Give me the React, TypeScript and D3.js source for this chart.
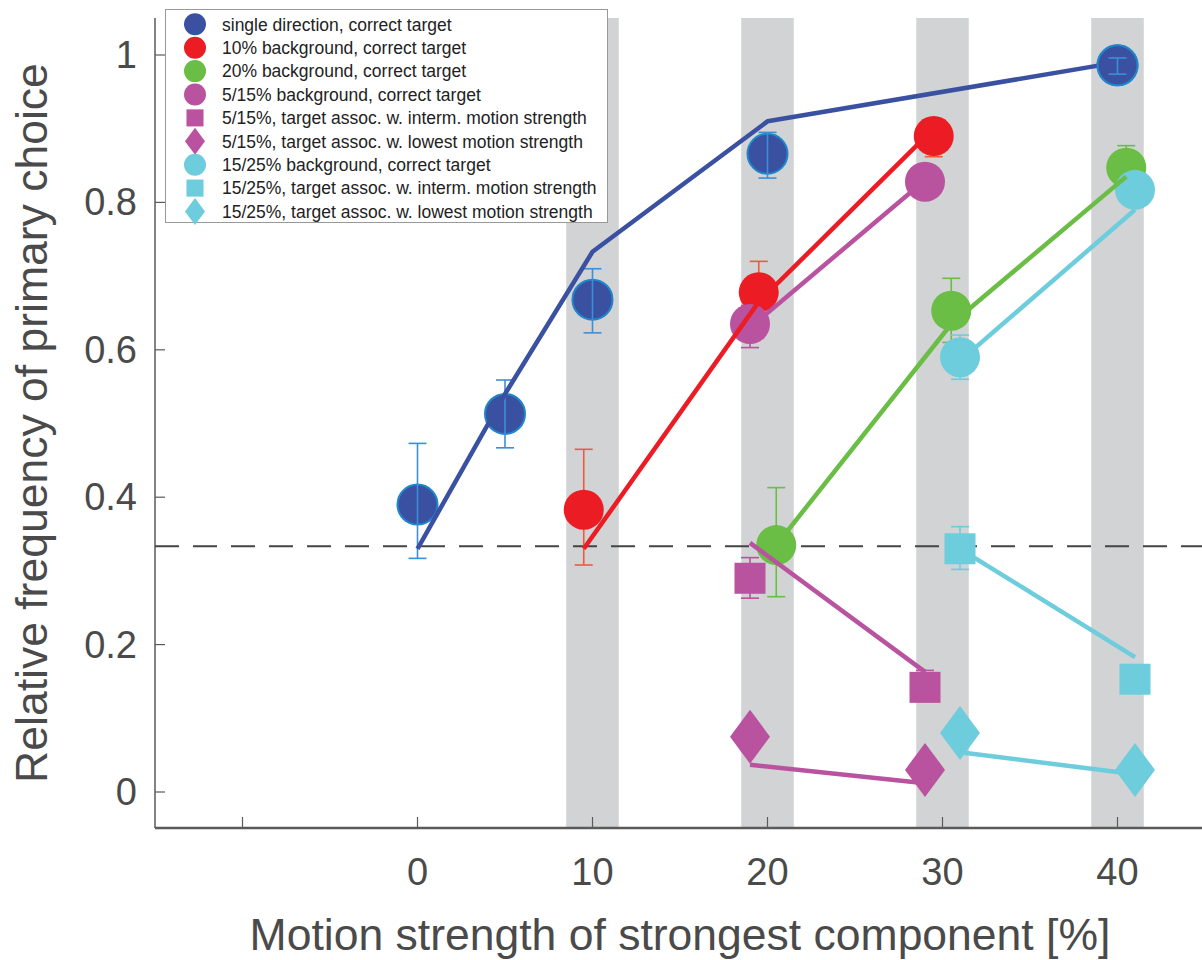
import * as d3 from "d3";

// x positions (motion strength %) and observed frequencies
const singleX = [0, 5, 10, 20, 40];
const singleY = [0.39, 0.513, 0.668, 0.866, 0.986];
const singleLo = [0.317, 0.467, 0.623, 0.833, 0.974];
const singleHi = [0.473, 0.559, 0.71, 0.895, 0.996];
const singleFit = [0.33, 0.54, 0.733, 0.91, 0.99];

const bg10X = [9.5, 19.5, 29.5];
const bg10Y = [0.383, 0.678, 0.89];
const bg10Lo = [0.308, 0.634, 0.862];
const bg10Hi = [0.465, 0.72, 0.912];
const bg10Fit = [0.33, 0.665, 0.9];

const bg20X = [20.5, 30.5, 40.5];
const bg20Y = [0.335, 0.653, 0.847];
const bg20Lo = [0.265, 0.61, 0.812];
const bg20Hi = [0.413, 0.697, 0.877];
const bg20Fit = [0.335, 0.635, 0.835];

const mixAX = [19, 29];
const mixACorrY = [0.635, 0.828];
const mixACorrLo = [0.603, 0.81];
const mixACorrHi = [0.66, 0.845];
const mixACorrFit = [0.63, 0.83];
const mixAIntY = [0.29, 0.142];
const mixAIntLo = [0.263, 0.125];
const mixAIntHi = [0.318, 0.165];
const mixAIntFit = [0.338, 0.163];
const mixALowY = [0.075, 0.03];
const mixALowFit = [0.037, 0.012];

const mixBX = [31, 41];
const mixBCorrY = [0.59, 0.817];
const mixBCorrLo = [0.56, 0.8];
const mixBCorrHi = [0.62, 0.832];
const mixBCorrFit = [0.585, 0.79];
const mixBIntY = [0.33, 0.153];
const mixBIntLo = [0.302, 0.135];
const mixBIntHi = [0.36, 0.17];
const mixBIntFit = [0.33, 0.183];
const mixBLowY = [0.08, 0.03];
const mixBLowFit = [0.054, 0.024];

const bands = [10, 20, 30, 40];
const xTicks = [-10, 0, 10, 20, 30, 40];
const xTickLabels = ["", "0", "10", "20", "30", "40"];
const yTicks = [0, 0.2, 0.4, 0.6, 0.8, 1];
const chance = 1 / 3;

const legendLabels = [
  "single direction, correct target",
  "10% background, correct target",
  "20% background, correct target",
  "5/15% background, correct target",
  "5/15%, target assoc. w. interm. motion strength",
  "5/15%, target assoc. w. lowest motion strength",
  "15/25% background, correct target",
  "15/25%, target assoc. w. interm. motion strength",
  "15/25%, target assoc. w. lowest motion strength",
];
const legendShapes = ["circle", "circle", "circle", "circle", "square", "diamond", "circle", "square", "diamond"];

const BLUE = "#3a51a2";
const RED = "#ec1c24";
const GREEN = "#6abd45";
const MAGENTA = "#b9529f";
const CYAN = "#6dcddd";
const legendColors = [BLUE, RED, GREEN, MAGENTA, MAGENTA, MAGENTA, CYAN, CYAN, CYAN];

const x = d3.scaleLinear().domain([-15, 45]).range([155, 1205]);
const y = d3.scaleLinear().domain([0, 1]).range([792, 55]);
const yBottom = 828;
const yTop = 18;

const line = d3.line<[number, number]>().x((d) => x(d[0])).y((d) => y(d[1]));
const zip = (xs: number[], ys: number[]) => xs.map((v, i) => [v, ys[i]] as [number, number]);

const Marker = ({ shape, cx, cy, color, size = 1, stroke }: any) => {
  if (shape === "circle")
    return <circle cx={cx} cy={cy} r={20 * size} fill={color} stroke={stroke || color} strokeWidth={stroke ? 2 : 0} />;
  if (shape === "square") {
    const h = 15.5 * size;
    return <rect x={cx - h} y={cy - h} width={2 * h} height={2 * h} fill={color} />;
  }
  const w = 20 * size;
  const h = 27 * size;
  return <path d={`M${cx},${cy - h}L${cx + w},${cy}L${cx},${cy + h}L${cx - w},${cy}Z`} fill={color} />;
};

const ErrBars = ({ xs, lo, hi, color }: any) => (
  <g stroke={color} strokeWidth={1.6}>
    {xs.map((v: number, i: number) => (
      <g key={i}>
        <line x1={x(v)} x2={x(v)} y1={y(lo[i])} y2={y(hi[i])} />
        <line x1={x(v) - 9} x2={x(v) + 9} y1={y(lo[i])} y2={y(lo[i])} />
        <line x1={x(v) - 9} x2={x(v) + 9} y1={y(hi[i])} y2={y(hi[i])} />
      </g>
    ))}
  </g>
);

const Points = ({ xs, ys, shape, color, stroke }: any) => (
  <g>
    {xs.map((v: number, i: number) => (
      <Marker key={i} shape={shape} cx={x(v)} cy={y(ys[i])} color={color} stroke={stroke} />
    ))}
  </g>
);

const Fit = ({ xs, ys, color }: any) => (
  <path d={line(zip(xs, ys)) || ""} fill="none" stroke={color} strokeWidth={4.5} strokeLinejoin="round" />
);

export default function App() {
  const font = "'Liberation Sans', Arial, sans-serif";
  const textColor = "#4a4a4a";
  return (
    <svg width={1202} height={960} style={{ position: "absolute", left: 0, top: 0, background: "#fff" }} fontFamily={font}>
      {/* gray bands */}
      {bands.map((b) => (
        <rect key={b} x={x(b - 1.5)} y={yTop} width={x(b + 1.5) - x(b - 1.5)} height={yBottom - yTop} fill="#d1d3d4" />
      ))}

      {/* axes */}
      <g stroke="#5a5a5a">
        <line x1={155} x2={155} y1={yTop} y2={yBottom} strokeWidth={1.5} />
        <line x1={155} x2={1202} y1={yBottom} y2={yBottom} strokeWidth={2.5} />
        {yTicks.map((t) => (
          <line key={t} x1={155} x2={165} y1={y(t)} y2={y(t)} strokeWidth={1.2} />
        ))}
        {xTicks.map((t) => (
          <line key={t} x1={x(t)} x2={x(t)} y1={yBottom} y2={yBottom - 11} strokeWidth={1.2} />
        ))}
      </g>
      {yTicks.map((t) => (
        <text key={t} x={137} y={y(t) + 13} textAnchor="end" fontSize={38} fill={textColor}>
          {t === 0 || t === 1 ? String(t) : t.toFixed(1)}
        </text>
      ))}
      {xTicks.map((t, i) => (
        <text key={t} x={x(t)} y={885} textAnchor="middle" fontSize={38} fill={textColor}>
          {xTickLabels[i]}
        </text>
      ))}
      <text x={680} y={950} textAnchor="middle" fontSize={44.5} fill={textColor}>
        Motion strength of strongest component [%]
      </text>
      <text transform="translate(47,423) rotate(-90)" textAnchor="middle" fontSize={44.5} fill={textColor}>
        Relative frequency of primary choice
      </text>

      {/* chance level */}
      <line x1={155} x2={1202} y1={y(chance)} y2={y(chance)} stroke="#444" strokeWidth={2} strokeDasharray="24 14" />

      {/* markers and error bars */}
      <Points xs={singleX} ys={singleY} shape="circle" color={BLUE} stroke="#1f86cc" />
      <ErrBars xs={singleX} lo={singleLo} hi={singleHi} color="#3b8fd8" />
      <ErrBars xs={bg10X} lo={bg10Lo} hi={bg10Hi} color="#ef5a3e" />
      <Points xs={bg10X} ys={bg10Y} shape="circle" color={RED} />
      <ErrBars xs={bg20X} lo={bg20Lo} hi={bg20Hi} color={GREEN} />
      <Points xs={bg20X} ys={bg20Y} shape="circle" color={GREEN} />
      <ErrBars xs={mixAX} lo={mixACorrLo} hi={mixACorrHi} color={MAGENTA} />
      <Points xs={mixAX} ys={mixACorrY} shape="circle" color={MAGENTA} />
      <ErrBars xs={mixAX} lo={mixAIntLo} hi={mixAIntHi} color={MAGENTA} />
      <Points xs={mixAX} ys={mixAIntY} shape="square" color={MAGENTA} />
      <Points xs={mixAX} ys={mixALowY} shape="diamond" color={MAGENTA} />
      <ErrBars xs={mixBX} lo={mixBCorrLo} hi={mixBCorrHi} color={CYAN} />
      <Points xs={mixBX} ys={mixBCorrY} shape="circle" color={CYAN} />
      <ErrBars xs={mixBX} lo={mixBIntLo} hi={mixBIntHi} color={CYAN} />
      <Points xs={mixBX} ys={mixBIntY} shape="square" color={CYAN} />
      <Points xs={mixBX} ys={mixBLowY} shape="diamond" color={CYAN} />

      {/* model lines */}
      <Fit xs={bg10X} ys={bg10Fit} color={RED} />
      <Fit xs={bg20X} ys={bg20Fit} color={GREEN} />
      <Fit xs={mixAX} ys={mixACorrFit} color={MAGENTA} />
      <Fit xs={mixAX} ys={mixAIntFit} color={MAGENTA} />
      <Fit xs={mixAX} ys={mixALowFit} color={MAGENTA} />
      <Fit xs={mixBX} ys={mixBCorrFit} color={CYAN} />
      <Fit xs={mixBX} ys={mixBIntFit} color={CYAN} />
      <Fit xs={mixBX} ys={mixBLowFit} color={CYAN} />
      <Fit xs={singleX} ys={singleFit} color={BLUE} />
      <Marker shape="circle" cx={x(40)} cy={y(0.986)} color={BLUE} stroke="#1f86cc" />
      <ErrBars xs={[40]} lo={[0.974]} hi={[0.996]} color="#3b8fd8" />

      {/* legend */}
      <g>
        <rect x={165.5} y={9.5} width={442} height={213} fill="#fff" stroke="#999" strokeWidth={1} />
        {legendLabels.map((lab, i) => {
          const cy = 24.3 + i * 23.4;
          return (
            <g key={i}>
              <Marker shape={legendShapes[i]} cx={195} cy={cy} color={legendColors[i]} size={legendShapes[i] === "diamond" ? 0.5 : 0.55} />
              <text x={222} y={cy + 6.3} fontSize={17.5} fill="#222">
                {lab}
              </text>
            </g>
          );
        })}
      </g>
    </svg>
  );
}
